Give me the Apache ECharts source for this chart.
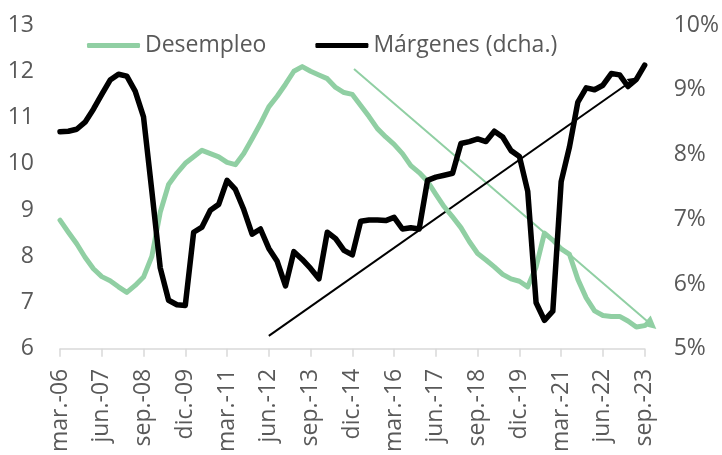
<!DOCTYPE html>
<html>
<head>
<meta charset="utf-8">
<script src="https://cdn.jsdelivr.net/npm/echarts@6/dist/echarts.min.js"></script>
<style>
    html, body { margin: 0; padding: 0; background: #fff; }
    #chart { width: 722px; height: 455px; }
</style>
</head>
<body>
<div id="chart"></div>
<script>
// ======================
// DATA
// ======================

const months = ['mar.', 'jun.', 'sep.', 'dic.'];
const quarters = [];
for (let y = 2006; y <= 2023; y++) {
    months.forEach(m => quarters.push(m + '-' + String(y).slice(2)));
}
quarters.length = 71; // mar.-06 .. sep.-23

const desempleo = [
    8.78, 8.52, 8.27, 7.98, 7.73, 7.56, 7.47, 7.34, 7.22, 7.37,
    7.55, 8.00, 8.95, 9.55, 9.80, 10.01, 10.15, 10.29, 10.22, 10.15,
    10.03, 9.98, 10.22, 10.54, 10.87, 11.23, 11.46, 11.72, 12.00, 12.10,
    12.00, 11.92, 11.84, 11.65, 11.54, 11.50, 11.26, 11.02, 10.76, 10.58,
    10.42, 10.22, 9.96, 9.81, 9.62, 9.34, 9.07, 8.85, 8.62, 8.32,
    8.06, 7.92, 7.77, 7.61, 7.51, 7.46, 7.34, 7.77, 8.50, 8.35,
    8.16, 8.04, 7.50, 7.10, 6.82, 6.72, 6.70, 6.70, 6.60, 6.47,
    6.50,
];

const margenes = [
    8.35, 8.36, 8.39, 8.50, 8.70, 8.93, 9.15, 9.24, 9.21, 8.98,
    8.58, 7.43, 6.25, 5.75, 5.68, 5.67, 6.80, 6.88, 7.14, 7.23,
    7.60, 7.46, 7.15, 6.77, 6.85, 6.55, 6.35, 5.97, 6.50, 6.38,
    6.24, 6.08, 6.80, 6.70, 6.52, 6.45, 6.97, 6.99, 6.99, 6.98,
    7.03, 6.85, 6.87, 6.85, 7.60, 7.65, 7.68, 7.71, 8.17, 8.20,
    8.24, 8.20, 8.36, 8.27, 8.06, 7.97, 7.43, 5.71, 5.44, 5.58,
    7.58, 8.12, 8.81, 9.03, 9.00, 9.07, 9.25, 9.23, 9.05, 9.16,
    9.38,
];

// trend arrows: [quarter index, value]
const trendDesempleo = [[35.2, 12.05], [70.8, 6.52]];
const trendMargenes = [[25.0, 5.20], [68.6, 9.15]];

const leftTicks = { min: 6, max: 13, interval: 1 };
const rightTicks = { min: 5, max: 10, interval: 1 };

// ======================
// STYLE
// ======================

const GREEN = '#90cfa3';
const TEXT = '#595959';
const FONT = 'Open Sans, sans-serif';
const FS = 23;

const chart = echarts.init(document.getElementById('chart'), null, { renderer: 'canvas' });

chart.setOption({
    animation: false,
    grid: { left: 60, right: 75, top: 25, bottom: 102 },
    legend: {
        left: 87,
        top: 34,
        padding: 0,
        icon: 'roundRect',
        itemWidth: 53,
        itemHeight: 5,
        itemGap: 49,
        data: ['Desempleo', 'Márgenes (dcha.)'],
        textStyle: { color: TEXT, fontSize: FS, fontFamily: FONT },
    },
    xAxis: [
        {
            type: 'category',
            data: quarters,
            boundaryGap: false,
            axisLine: { lineStyle: { color: '#d9d9d9', width: 1.5 } },
            axisTick: { interval: 4, length: 8, lineStyle: { color: '#d9d9d9', width: 1.5 } },
            axisLabel: {
                interval: 4,
                rotate: 90,
                margin: 20,
                color: TEXT,
                fontSize: FS,
                fontFamily: FONT,
            },
            splitLine: { show: false },
        },
        {
            type: 'value',
            min: 0,
            max: 70,
            show: false,
        },
    ],
    yAxis: [
        {
            type: 'value',
            ...leftTicks,
            axisLine: { show: false },
            axisTick: { show: false },
            splitLine: { show: false },
            axisLabel: {
                margin: 26,
                padding: [8, 0, 0, 0],
                color: TEXT,
                fontSize: FS,
                fontFamily: FONT,
            },
        },
        {
            type: 'value',
            ...rightTicks,
            axisLine: { show: false },
            axisTick: { show: false },
            splitLine: { show: false },
            axisLabel: {
                margin: 29,
                padding: [8, 0, 0, 0],
                color: TEXT,
                fontSize: FS,
                fontFamily: FONT,
                formatter: '{value}%',
            },
        },
    ],
    series: [
        {
            name: 'Desempleo',
            type: 'line',
            data: desempleo,
            yAxisIndex: 0,
            symbol: 'none',
            lineStyle: { color: GREEN, width: 5, join: 'round', cap: 'round' },
            itemStyle: { color: GREEN },
        },
        {
            name: 'Márgenes (dcha.)',
            type: 'line',
            data: margenes,
            yAxisIndex: 1,
            symbol: 'none',
            lineStyle: { color: '#000', width: 5.5, join: 'round', cap: 'round' },
            itemStyle: { color: '#000' },
        },
        {
            type: 'lines',
            coordinateSystem: 'cartesian2d',
            xAxisIndex: 1,
            yAxisIndex: 0,
            clip: false,
            symbol: ['none', 'triangle'],
            symbolSize: 13,
            lineStyle: { color: GREEN, width: 2, opacity: 1 },
            data: [{ coords: trendDesempleo }],
        },
        {
            type: 'lines',
            coordinateSystem: 'cartesian2d',
            xAxisIndex: 1,
            yAxisIndex: 1,
            clip: false,
            symbol: ['none', 'triangle'],
            symbolSize: 9,
            lineStyle: { color: '#000', width: 2, opacity: 1 },
            data: [{ coords: trendMargenes }],
        },
    ],
});
</script>
</body>
</html>
